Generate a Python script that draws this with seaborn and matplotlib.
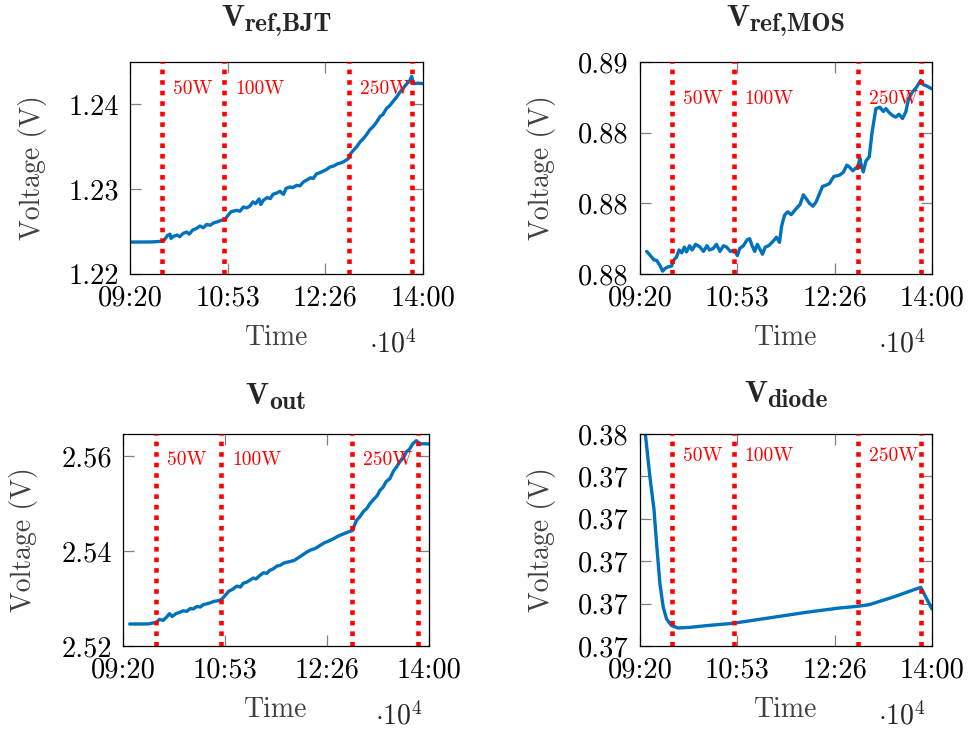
import matplotlib
matplotlib.use("Agg")
import matplotlib.pyplot as plt
import seaborn as sns
import pandas as pd

# ---------------- data (time in seconds of day) ----------------
t_bjt = [33700, 34200, 34800, 35416, 35600, 35750, 35894, 35950, 36100, 36300,
         36450, 36658, 36850, 37000, 37200, 37400, 37614, 37800, 38000, 38200,
         38378, 38600, 38800, 39047, 39250, 39400, 39716, 39900, 40100, 40300,
         40481, 40650, 40800, 41000, 41100, 41245, 41450, 41650, 41800, 42010,
         42200, 42400, 42550, 42774, 42950, 43150, 43350, 43539, 43750, 43950,
         44100, 44303, 44500, 44700, 44850, 45068, 45300, 45500, 45700, 45900,
         46119, 46250, 46406, 46600, 46800, 46979, 47150, 47350, 47550, 47744,
         47950, 48100, 48300, 48508, 48700, 48900, 49082, 49300, 49500, 49655,
         49750, 49846, 50100, 50400]
v_bjt = [1.22377, 1.22377, 1.22378, 1.22385, 1.22410, 1.22455, 1.22470, 1.22420,
         1.22445, 1.22460, 1.22440, 1.22480, 1.22495, 1.22470, 1.22520, 1.22535,
         1.22566, 1.22545, 1.22585, 1.22575, 1.22601, 1.22615, 1.22630, 1.22645,
         1.22700, 1.22735, 1.22751, 1.22740, 1.22790, 1.22780, 1.22802, 1.22850,
         1.22830, 1.22885, 1.22820, 1.22869, 1.22900, 1.22890, 1.22940, 1.22955,
         1.22975, 1.22940, 1.23010, 1.23026, 1.23020, 1.23045, 1.23040, 1.23085,
         1.23110, 1.23135, 1.23125, 1.23183, 1.23195, 1.23215, 1.23230, 1.23262,
         1.23275, 1.23300, 1.23310, 1.23330, 1.23360, 1.23420, 1.23458, 1.23500,
         1.23560, 1.23596, 1.23640, 1.23700, 1.23740, 1.23793, 1.23860, 1.23880,
         1.23950, 1.23989, 1.24040, 1.24090, 1.24146, 1.24200, 1.24250, 1.24284,
         1.24330, 1.24245, 1.24250, 1.24245]

t_mos = [33982, 34200, 34400, 34556, 34750, 34900, 35034, 35200, 35416, 35550,
         35702, 35850, 36000, 36150, 36276, 36450, 36600, 36800, 37040, 37250,
         37450, 37600, 37805, 38000, 38200, 38400, 38569, 38800, 39047, 39200,
         39334, 39550, 39750, 39907, 40050, 40200, 40350, 40481, 40650, 40800,
         41000, 41245, 41450, 41627, 41750, 41914, 42100, 42300, 42583, 42800,
         43000, 43157, 43350, 43550, 43730, 43900, 44100, 44303, 44500, 44750,
         45068, 45300, 45500, 45641, 45850, 46000, 46119, 46250, 46310, 46444,
         46600, 46788, 46950, 47170, 47400, 47600, 47744, 47950, 48150, 48317,
         48500, 48700, 48890, 49050, 49273, 49500, 49751, 49900, 50100, 50400]
v_mos = [0.87830, 0.87815, 0.87800, 0.87798, 0.87780, 0.87760, 0.87769, 0.87775,
         0.87778, 0.87800, 0.87810, 0.87835, 0.87825, 0.87845, 0.87828, 0.87850,
         0.87835, 0.87855, 0.87846, 0.87830, 0.87850, 0.87835, 0.87840, 0.87855,
         0.87830, 0.87850, 0.87846, 0.87830, 0.87834, 0.87815, 0.87840, 0.87850,
         0.87870, 0.87875, 0.87850, 0.87830, 0.87855, 0.87840, 0.87820, 0.87845,
         0.87850, 0.87865, 0.87880, 0.87862, 0.87920, 0.87958, 0.87970, 0.87960,
         0.87981, 0.87995, 0.88030, 0.88017, 0.88000, 0.87990, 0.88005, 0.88030,
         0.88060, 0.88064, 0.88070, 0.88095, 0.88099, 0.88110, 0.88135, 0.88129,
         0.88115, 0.88125, 0.88123, 0.88160, 0.88140, 0.88111, 0.88150, 0.88164,
         0.88250, 0.88335, 0.88340, 0.88325, 0.88335, 0.88320, 0.88310, 0.88305,
         0.88315, 0.88300, 0.88323, 0.88370, 0.88394, 0.88410, 0.88435, 0.88420,
         0.88415, 0.88405]

t_out = [33966, 34500, 35000, 35430, 35600, 35800, 35979, 36150, 36300, 36500,
         36711, 36900, 37100, 37300, 37443, 37650, 37850, 38000, 38175, 38400,
         38600, 38800, 38999, 39200, 39400, 39639, 39850, 40050, 40200, 40371,
         40550, 40750, 40900, 41103, 41300, 41500, 41650, 41835, 42050, 42250,
         42400, 42567, 42800, 43000, 43116, 43400, 43665, 43900, 44150, 44397,
         44650, 44900, 45129, 45400, 45650, 45900, 46190, 46410, 46600, 46800,
         47000, 47142, 47350, 47550, 47700, 47874, 48050, 48250, 48450, 48606,
         48800, 49000, 49150, 49338, 49500, 49704, 49887, 50100, 50400]
v_out = [2.52463, 2.52463, 2.52465, 2.52498, 2.52560, 2.52540, 2.52603, 2.52680,
         2.52620, 2.52680, 2.52708, 2.52740, 2.52730, 2.52790, 2.52778, 2.52830,
         2.52820, 2.52870, 2.52884, 2.52910, 2.52940, 2.52950, 2.52975, 2.53060,
         2.53150, 2.53199, 2.53260, 2.53240, 2.53320, 2.53340, 2.53380, 2.53430,
         2.53410, 2.53480, 2.53540, 2.53530, 2.53590, 2.53620, 2.53680, 2.53700,
         2.53740, 2.53760, 2.53780, 2.53800, 2.53830, 2.53900, 2.53971, 2.54020,
         2.54050, 2.54111, 2.54170, 2.54210, 2.54251, 2.54310, 2.54350, 2.54390,
         2.54427, 2.54637, 2.54720, 2.54830, 2.54900, 2.54988, 2.55080, 2.55160,
         2.55270, 2.55338, 2.55460, 2.55520, 2.55680, 2.55759, 2.55880, 2.55960,
         2.56080, 2.56145, 2.56250, 2.56320, 2.56250, 2.56255, 2.56250]

t_diode = [33887, 34173, 34365, 34403, 34556, 34747, 34938, 35129, 35416, 35798,
           36467, 37423, 38952, 41245, 43157, 45068, 46119, 46788, 48126, 49751,
           50400]
v_diode = [0.375079, 0.373978, 0.373349, 0.373231, 0.372406, 0.371462, 0.370912,
           0.370637, 0.370480, 0.370425, 0.370440, 0.370480, 0.370535, 0.370676,
           0.370794, 0.370896, 0.370936, 0.370975, 0.371148, 0.371384, 0.370873]

event_times = [35430, 38990, 46160, 49770]
event_labels = ["50W", "100W", "250W", ""]

x_ticks = [33600, 39200, 44800, 50400]
x_ticklabels = ["09:20", "10:53", "12:26", "14:00"]

title_main = ["V", "V", "V", "V"]
title_sub = ["ref,BJT", "ref,MOS", "out", "diode"]

yt_bjt = [1.22, 1.23, 1.24]
yl_bjt = ["1.22", "1.23", "1.24"]
yt_mos = [0.8775, 0.8800, 0.8825, 0.8850]
yl_mos = ["0.88", "0.88", "0.88", "0.89"]
yt_out = [2.52, 2.54, 2.56]
yl_out = ["2.52", "2.54", "2.56"]
yt_diode = [0.370, 0.371, 0.372, 0.373, 0.374, 0.375]
yl_diode = ["0.37", "0.37", "0.37", "0.37", "0.37", "0.38"]

# ---------------- style ----------------
sns.set_style("ticks")
plt.rcParams['font.family'] = ['cmr10', 'DejaVu Serif']
plt.rcParams['mathtext.fontset'] = 'cm'
plt.rcParams['axes.formatter.use_mathtext'] = True
plt.rcParams['axes.unicode_minus'] = False

BLUE = "#0072BD"
RED = "#FF0000"
LABEL_GREY = "#404040"

fig = plt.figure(figsize=(9.68, 7.29), dpi=100)

panels = [
    dict(t=t_bjt, v=v_bjt, ylim=(1.22, 1.245), yt=yt_bjt, yl=yl_bjt,
         rect=[130/968, 1-274/729, 293/968, 212/729], txt_y=0.849, ylab_x=-0.334, ty=1.170),
    dict(t=t_mos, v=v_mos, ylim=(0.8775, 0.885), yt=yt_mos, yl=yl_mos,
         rect=[640/968, 1-274/729, 292/968, 212/729], txt_y=0.802, ylab_x=-0.339, ty=1.170),
    dict(t=t_out, v=v_out, ylim=(2.52, 2.5646), yt=yt_out, yl=yl_out,
         rect=[123/968, 1-646/729, 306/968, 212/729], txt_y=0.854, ylab_x=-0.324, ty=1.143),
    dict(t=t_diode, v=v_diode, ylim=(0.370, 0.375), yt=yt_diode, yl=yl_diode,
         rect=[640/968, 1-646/729, 292/968, 212/729], txt_y=0.873, ylab_x=-0.339, ty=1.151),
]

title_parts = []
for p, tm, ts in zip(panels, title_main, title_sub):
    ax = fig.add_axes(p["rect"])
    df = pd.DataFrame({"t": p["t"], "v": p["v"]})
    sns.lineplot(data=df, x="t", y="v", ax=ax, color=BLUE, lw=2.4, zorder=2)
    for et, lab in zip(event_times, event_labels):
        ax.axvline(et, color=RED, lw=3.3, ls=(0, (1, 1.3)), zorder=3)
        if lab:
            ax.annotate(lab, xy=(et, p["txt_y"]), xycoords=("data", "axes fraction"),
                        xytext=(8.0, 0), textcoords="offset points",
                        ha="left", va="baseline", color=RED, fontsize=14, zorder=4)
    ax.set_xlim(33600, 50400)
    ax.set_ylim(*p["ylim"])
    ax.set_xticks(x_ticks)
    ax.set_xticklabels(x_ticklabels)
    ax.set_yticks(p["yt"])
    ax.set_yticklabels(p["yl"])
    ax.tick_params(direction="in", top=True, right=True, length=8, width=0.9,
                   color="#808080", labelsize=20.5, labelcolor="black", pad=8)
    for s in ax.spines.values():
        s.set_color("black")
        s.set_linewidth(0.9)
    ax.set_xlabel("Time", fontsize=20, color=LABEL_GREY)
    ax.set_ylabel("Voltage (V)", fontsize=20, color=LABEL_GREY)
    ax.xaxis.set_label_coords(0.5, -0.24)
    ax.yaxis.set_label_coords(p["ylab_x"], 0.5)
    ax.xaxis.label.set_va("top")
    ax.yaxis.label.set_va("center")
    # title: big bold V with a large bold subscript
    t1 = ax.text(0.5, p["ty"], tm, transform=ax.transAxes, ha="left", va="baseline",
                 fontfamily="cmb10", fontsize=22)
    t2 = ax.annotate(ts, xy=(1, 0), xycoords=t1, xytext=(0.5, 0.5),
                     textcoords="offset points", ha="left", va="baseline",
                     fontfamily="cmb10", fontsize=18.5)
    title_parts.append((ax, t1, t2, p["ty"]))
    ax.text(0.98, -0.368, r"$\cdot 10^{4}$", transform=ax.transAxes,
            ha="right", va="baseline", fontsize=20)

# center the composite titles over their axes
fig.canvas.draw()
rend = fig.canvas.get_renderer()
for ax, t1, t2, ty in title_parts:
    b1 = t1.get_window_extent(rend)
    b2 = t2.get_window_extent(rend)
    width = b2.x1 - b1.x0
    axb = ax.get_window_extent(rend)
    cx = (axb.x0 + axb.x1) / 2
    left_frac = (cx - width / 2 - axb.x0) / axb.width
    t1.set_position((left_frac, ty))

fig.savefig("out.png", dpi=100)
